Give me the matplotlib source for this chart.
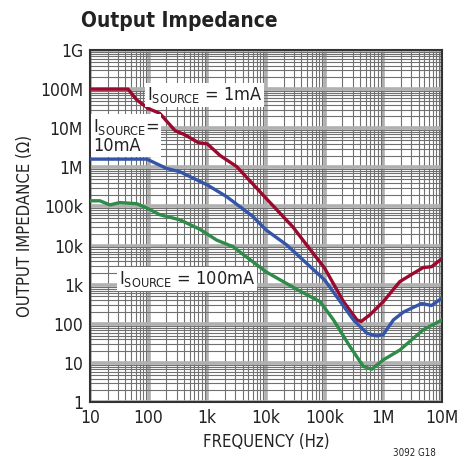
import numpy as np
import matplotlib
matplotlib.use("Agg")
import matplotlib.pyplot as plt
from matplotlib.ticker import LogLocator, FixedLocator, NullFormatter

plt.rcParams['font.family'] = ['DejaVu Sans']
plt.rcParams['font.stretch'] = 'condensed'
plt.rcParams['mathtext.fontset'] = 'custom'
plt.rcParams['mathtext.rm'] = 'DejaVu Sans:stretch=condensed'

# curves, as log10 of frequency (Hz) and log10 of impedance (ohm)
red_logf = [1.0, 1.3, 1.65, 1.8, 2.0, 2.19, 2.45, 2.62, 2.85, 3.0, 3.22, 3.5, 3.84, 4.0,
            4.45, 5.0, 5.32, 5.55, 5.62, 5.77, 6.0, 6.28, 6.51, 6.68, 6.82, 7.0]
red_logz = [8.0, 8.0, 8.0, 7.72, 7.5, 7.38, 6.94, 6.83, 6.63, 6.6, 6.3, 6.02, 5.47, 5.21,
            4.49, 3.42, 2.57, 2.1, 2.06, 2.23, 2.57, 3.08, 3.29, 3.44, 3.46, 3.67]

blue_logf = [1.0, 1.5, 1.97, 2.31, 2.53, 3.0, 3.33, 3.78, 4.0, 4.35, 5.0, 5.49, 5.72, 5.89,
             6.0, 6.17, 6.34, 6.65, 6.82, 7.0]
blue_logz = [6.21, 6.21, 6.21, 5.97, 5.89, 5.55, 5.25, 4.74, 4.4, 4.02, 3.12, 2.1, 1.76, 1.69,
             1.73, 2.1, 2.3, 2.52, 2.47, 2.66]

green_logf = [1.0, 1.17, 1.34, 1.51, 1.8, 1.97, 2.19, 2.53, 2.87, 3.16, 3.44, 4.0, 4.55, 4.92,
              5.15, 5.43, 5.66, 5.8, 6.0, 6.28, 6.68, 7.0]
green_logz = [5.145, 5.145, 5.04, 5.1, 5.07, 4.96, 4.79, 4.66, 4.42, 4.14, 3.97, 3.33, 2.86, 2.57,
              2.1, 1.42, 0.91, 0.84, 1.08, 1.33, 1.85, 2.1]

x_ticks = [1e1, 1e2, 1e3, 1e4, 1e5, 1e6, 1e7]
x_labels = ['10', '100', '1k', '10k', '100k', '1M', '10M']
y_ticks = [1e0, 1e1, 1e2, 1e3, 1e4, 1e5, 1e6, 1e7, 1e8, 1e9]
y_labels = ['1', '10', '100', '1k', '10k', '100k', '1M', '10M', '100M', '1G']

fig = plt.figure(figsize=(4.61, 4.67), dpi=100)
ax = fig.add_axes([0.195, 0.139, 0.764, 0.754])

ax.set_xscale('log')
ax.set_yscale('log')
ax.set_xlim(1e1, 1e7)
ax.set_ylim(1e0, 1e9)

ax.plot(10 ** np.array(red_logf), 10 ** np.array(red_logz), color='#9b0a2e', lw=2.4, zorder=3)
ax.plot(10 ** np.array(blue_logf), 10 ** np.array(blue_logz), color='#3556a8', lw=2.4, zorder=3)
ax.plot(10 ** np.array(green_logf), 10 ** np.array(green_logz), color='#2e8b48', lw=2.4, zorder=3)

ax.xaxis.set_major_locator(FixedLocator(x_ticks))
ax.set_xticklabels(x_labels)
ax.yaxis.set_major_locator(FixedLocator(y_ticks))
ax.set_yticklabels(y_labels)
ax.xaxis.set_minor_locator(LogLocator(base=10, subs=np.arange(2, 10), numticks=20))
ax.yaxis.set_minor_locator(LogLocator(base=10, subs=np.arange(2, 10), numticks=20))
ax.xaxis.set_minor_formatter(NullFormatter())
ax.yaxis.set_minor_formatter(NullFormatter())
ax.tick_params(which='both', length=0, labelsize=12.5, colors='#222222', pad=5)

ax.grid(which='major', color='#b0b0b0', lw=2.6, zorder=1)
ax.grid(which='minor', color='#707070', lw=0.8, zorder=1)
for s in ax.spines.values():
    s.set_color('#333333')
    s.set_linewidth(1.5)

ax.set_xlabel('FREQUENCY (Hz)', fontsize=12, color='#222222', labelpad=4)
ax.set_ylabel('OUTPUT IMPEDANCE (\u03a9)', fontsize=12, color='#222222', labelpad=4)

box = dict(facecolor='white', edgecolor='none', pad=1.5)
ax.text(10 ** 1.97, 10 ** 7.85, r'$\mathregular{I_{SOURCE}}$ = 1mA', fontsize=13, color='#222222',
        bbox=box, va='center', ha='left', zorder=4)
ax.text(10 ** 1.05, 10 ** 6.8, r'$\mathregular{I_{SOURCE}}$=' + '\n10mA', fontsize=13, color='#222222',
        bbox=box, va='center', ha='left', linespacing=0.95, zorder=4)
ax.text(10 ** 1.5, 10 ** 3.15, r'$\mathregular{I_{SOURCE}}$ = 100mA', fontsize=13, color='#222222',
        bbox=box, va='center', ha='left', zorder=4)

fig.text(0.175, 0.955, 'Output Impedance', fontsize=15, fontweight='bold', color='#222222',
         ha='left', va='center')
fig.text(0.945, 0.02, '3092 G18', fontsize=7, color='#222222', ha='right', va='bottom')

fig.savefig('out.png', dpi=100)
